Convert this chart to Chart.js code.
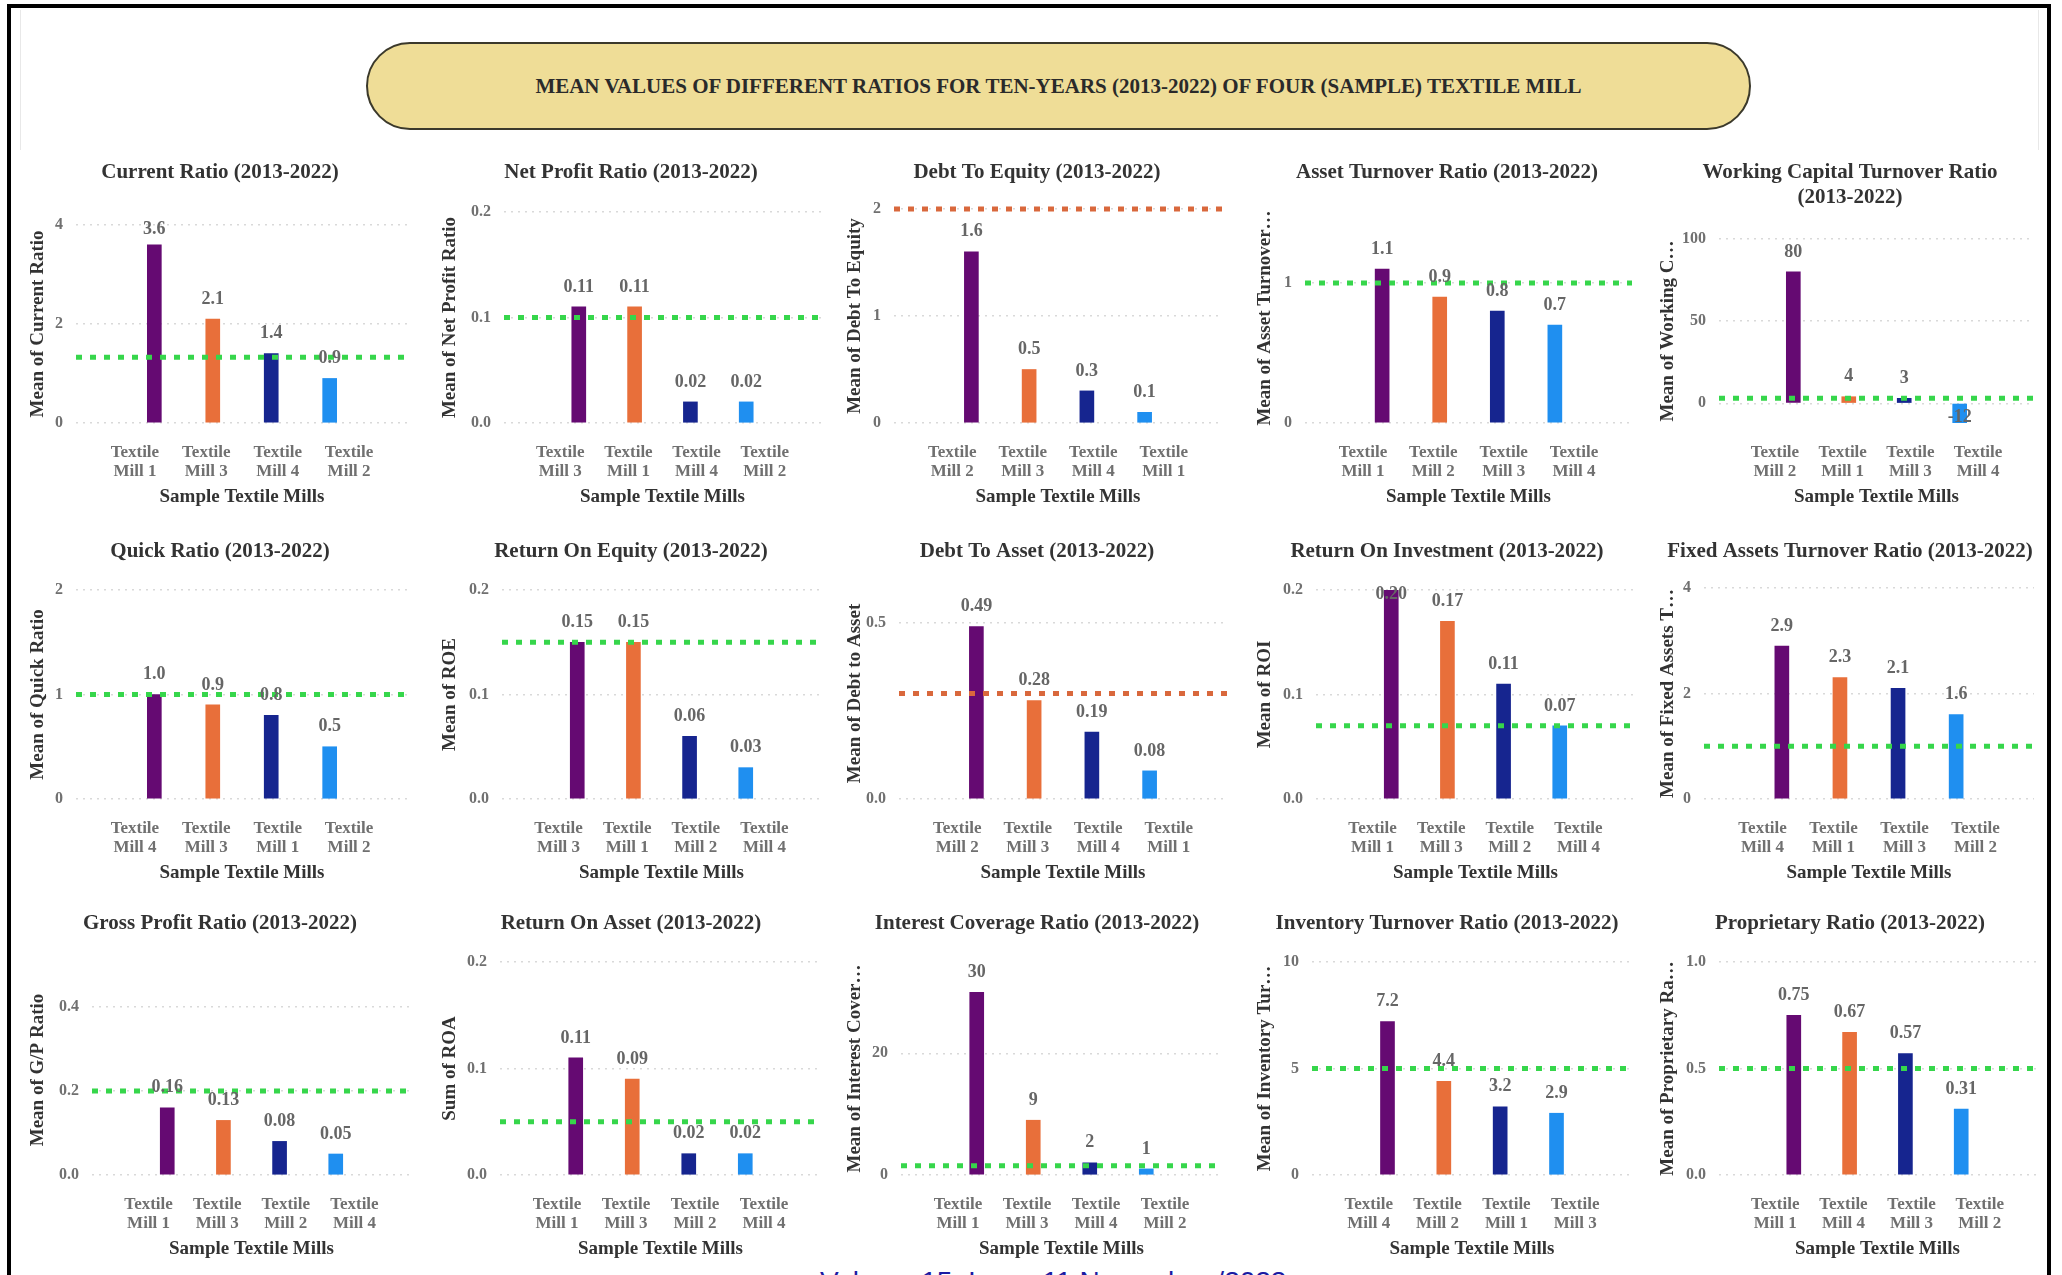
<!DOCTYPE html>
<html>
<head>
<meta charset="utf-8">
<script src="https://cdn.jsdelivr.net/npm/chart.js@4.4.1/dist/chart.umd.min.js"></script>
<style>
  html, body { margin: 0; padding: 0; background: #ffffff; }
  body { width: 2062px; height: 1275px; position: relative; overflow: hidden; }
  #frame { position: absolute; left: 7px; top: 4px; width: 2036px; height: 1320px;
           border: 4px solid #000; border-bottom: none; }
  .faint { position: absolute; width: 1px; background: #e8e8e8; }
  #banner { position: absolute; left: 366px; top: 42px; width: 1385px; height: 88px; box-sizing: border-box;
            border: 2px solid #3b392b; border-radius: 44px; background: #efdd97;
            display: flex; align-items: center; justify-content: center;
            font: bold 21px "Liberation Serif", "Times New Roman", serif; color: #2a2a2a; }
  #footer { position: absolute; left: 820px; top: 1268px; white-space: nowrap;
            font: 28px/28px "Liberation Sans", Arial, sans-serif; color: #1b1ba3; }
  canvas { position: absolute; }
</style>
</head>
<body>
<div id="frame"></div>
<div class="faint" style="left:20px; top:10px; height:140px;"></div>
<div class="faint" style="left:2038px; top:10px; height:140px;"></div>
<div id="banner">MEAN VALUES OF DIFFERENT RATIOS FOR TEN-YEARS (2013-2022) OF FOUR (SAMPLE) TEXTILE MILL</div>
<div id="footer">Volume 15, Issue 11 November /2023</div>

<script>
// ---------- Data: one entry per panel, read left-to-right, top-to-bottom ----------
const panelTitles = [
  'Current Ratio (2013-2022)', 'Net Profit Ratio (2013-2022)', 'Debt To Equity (2013-2022)',
  'Asset Turnover Ratio (2013-2022)', ['Working Capital Turnover Ratio', '(2013-2022)'],
  'Quick Ratio (2013-2022)', 'Return On Equity (2013-2022)', 'Debt To Asset (2013-2022)',
  'Return On Investment (2013-2022)', 'Fixed Assets Turnover Ratio (2013-2022)',
  'Gross Profit Ratio (2013-2022)', 'Return On Asset (2013-2022)', 'Interest Coverage Ratio (2013-2022)',
  'Inventory Turnover Ratio (2013-2022)', 'Proprietary Ratio (2013-2022)'
];

const yAxisTitles = [
  'Mean of Current Ratio', 'Mean of Net Profit Ratio', 'Mean of Debt To Equity',
  'Mean of Asset Turnover…', 'Mean of Working C…',
  'Mean of Quick Ratio', 'Mean of ROE', 'Mean of Debt to Asset', 'Mean of ROI', 'Mean of Fixed Assets T…',
  'Mean of G/P Ratio', 'Sum of ROA', 'Mean of Interest Cover…', 'Mean of Inventory Tur…', 'Mean of Proprietary Ra…'
];

const xAxisTitle = 'Sample Textile Mills';

// Mills in the order each panel ranks them (highest first)
const millOrder = [
  ['Textile Mill 1', 'Textile Mill 3', 'Textile Mill 4', 'Textile Mill 2'],
  ['Textile Mill 3', 'Textile Mill 1', 'Textile Mill 4', 'Textile Mill 2'],
  ['Textile Mill 2', 'Textile Mill 3', 'Textile Mill 4', 'Textile Mill 1'],
  ['Textile Mill 1', 'Textile Mill 2', 'Textile Mill 3', 'Textile Mill 4'],
  ['Textile Mill 2', 'Textile Mill 1', 'Textile Mill 3', 'Textile Mill 4'],
  ['Textile Mill 4', 'Textile Mill 3', 'Textile Mill 1', 'Textile Mill 2'],
  ['Textile Mill 3', 'Textile Mill 1', 'Textile Mill 2', 'Textile Mill 4'],
  ['Textile Mill 2', 'Textile Mill 3', 'Textile Mill 4', 'Textile Mill 1'],
  ['Textile Mill 1', 'Textile Mill 3', 'Textile Mill 2', 'Textile Mill 4'],
  ['Textile Mill 4', 'Textile Mill 1', 'Textile Mill 3', 'Textile Mill 2'],
  ['Textile Mill 1', 'Textile Mill 3', 'Textile Mill 2', 'Textile Mill 4'],
  ['Textile Mill 1', 'Textile Mill 3', 'Textile Mill 2', 'Textile Mill 4'],
  ['Textile Mill 1', 'Textile Mill 3', 'Textile Mill 4', 'Textile Mill 2'],
  ['Textile Mill 4', 'Textile Mill 2', 'Textile Mill 1', 'Textile Mill 3'],
  ['Textile Mill 1', 'Textile Mill 4', 'Textile Mill 3', 'Textile Mill 2']
];

// Ten-year mean of each ratio, in the same order as millOrder
const meanValues = [
  [3.6, 2.1, 1.4, 0.9],
  [0.11, 0.11, 0.02, 0.02],
  [1.6, 0.5, 0.3, 0.1],
  [1.1, 0.9, 0.8, 0.7],
  [80, 4, 3, -12],
  [1.0, 0.9, 0.8, 0.5],
  [0.15, 0.15, 0.06, 0.03],
  [0.49, 0.28, 0.19, 0.08],
  [0.20, 0.17, 0.11, 0.07],
  [2.9, 2.3, 2.1, 1.6],
  [0.16, 0.13, 0.08, 0.05],
  [0.11, 0.09, 0.02, 0.02],
  [30, 9, 2, 1],
  [7.2, 4.4, 3.2, 2.9],
  [0.75, 0.67, 0.57, 0.31]
];

// Decimals used in the value label over each bar
const valueDecimals = [1, 2, 1, 1, 0, 1, 2, 2, 2, 1, 2, 2, 0, 1, 2];

// Benchmark (standard) line drawn across each panel
const benchmarkValues = [1.33, 0.1, 2, 1, 3, 1, 0.15, 0.3, 0.07, 1, 0.2, 0.05, 1.5, 5, 0.5];
const benchmarkKinds = ['norm', 'norm', 'ceiling', 'norm', 'norm',
                        'norm', 'norm', 'ceiling', 'norm', 'norm',
                        'norm', 'norm', 'norm', 'norm', 'norm'];

// Value axis range and tick labels
const yRanges = [
  [0, 4], [0, 0.2], [0, 2], [0, 1.5], [-12, 100],
  [0, 2], [0, 0.2], [0, 0.6], [0, 0.2], [0, 4],
  [0, 0.5], [0, 0.2], [0, 35], [0, 10], [0, 1]
];
const yTickValues = [
  [0, 2, 4], [0, 0.1, 0.2], [0, 1, 2], [0, 1], [0, 50, 100],
  [0, 1, 2], [0, 0.1, 0.2], [0, 0.5], [0, 0.1, 0.2], [0, 2, 4],
  [0, 0.2, 0.4], [0, 0.1, 0.2], [0, 20], [0, 5, 10], [0, 0.5, 1]
];
const yTickLabels = [
  ['0', '2', '4'], ['0.0', '0.1', '0.2'], ['0', '1', '2'], ['0', '1'], ['0', '50', '100'],
  ['0', '1', '2'], ['0.0', '0.1', '0.2'], ['0.0', '0.5'], ['0.0', '0.1', '0.2'], ['0', '2', '4'],
  ['0.0', '0.2', '0.4'], ['0.0', '0.1', '0.2'], ['0', '20'], ['0', '5', '10'], ['0.0', '0.5', '1.0']
];

// ---------- Layout (page pixels) ----------
const columns = [
  { canvasLeft: 20,   titleX: 220,  yTitleX: 38 },
  { canvasLeft: 430,  titleX: 631,  yTitleX: 450 },
  { canvasLeft: 835,  titleX: 1037, yTitleX: 855 },
  { canvasLeft: 1245, titleX: 1447, yTitleX: 1265 },
  { canvasLeft: 1648, titleX: 1850, yTitleX: 1668 }
];
const rows = [
  { titleY: 173, plotBottom: 423 },
  { titleY: 552, plotBottom: 799 },
  { titleY: 924, plotBottom: 1175 }
];
const plotTops   = [225, 212, 209, 213, 239,  590, 590, 588, 590, 588,  965, 962, 962, 962, 962];
const plotLefts  = [76, 504, 894, 1305, 1719,  76, 502, 899, 1316, 1704,  92, 500, 901, 1312, 1719];
const plotRights = [408, 821, 1222, 1632, 2034,  408, 821, 1227, 1635, 2034,  411, 821, 1222, 1632, 2036];

// ---------- Styling ----------
const barColors = ['#650a72', '#e86f3a', '#16258f', '#1f8ff0'];
const lineColors = { norm: '#36d64b', ceiling: '#d9683c' };
const SERIF = '"Liberation Serif", "Times New Roman", serif';
Chart.defaults.font.family = SERIF;

const BAR_RANGE = [-1.34, 4.34];     // bar slots across the plot
const LABEL_RANGE = [-0.825, 3.825]; // category label slots across the plot
const TITLE_LH = 25.2;               // 21px * 1.2
const X_AXIS_H = 85;

// Value labels printed above (or at the end of, for negatives) each bar
const barValueLabels = {
  id: 'barValueLabels',
  afterDatasetsDraw(chart, args, opts) {
    const meta = chart.getDatasetMeta(0);
    const ds = chart.data.datasets[0];
    const ctx = chart.ctx;
    const area = chart.chartArea;
    ctx.save();
    ctx.font = 'bold 18px ' + SERIF;
    ctx.fillStyle = '#666666';
    ctx.textAlign = 'center';
    ctx.textBaseline = 'middle';
    meta.data.forEach((bar, i) => {
      const v = ds.data[i].y;
      const text = v.toFixed(opts.decimals);
      const y = v >= 0 ? Math.max(bar.y - 20, area.top + 4) : bar.y - 6;
      ctx.fillText(text, bar.x, y);
    });
    ctx.restore();
  }
};

for (let p = 0; p < 15; p++) {
  const col = columns[p % 5];
  const row = rows[Math.floor(p / 5)];
  const canvasLeft = col.canvasLeft;
  const canvasW = 2 * (col.titleX - canvasLeft);
  const canvasTop = Math.round(row.titleY - TITLE_LH / 2);
  const canvasH = row.plotBottom + X_AXIS_H - canvasTop;
  const titleLines = Array.isArray(panelTitles[p]) ? panelTitles[p].length : 1;
  const titleGap = plotTops[p] - canvasTop - TITLE_LH * titleLines;
  const yAxisW = plotLefts[p] - canvasLeft;
  const rightW = canvasLeft + canvasW - plotRights[p];
  const yTitlePad = col.yTitleX - canvasLeft - 11.4;

  const cv = document.createElement('canvas');
  cv.width = canvasW;
  cv.height = canvasH;
  cv.style.left = canvasLeft + 'px';
  cv.style.top = canvasTop + 'px';
  cv.style.width = canvasW + 'px';
  cv.style.height = canvasH + 'px';
  document.body.appendChild(cv);

  const mills = millOrder[p];
  const values = meanValues[p];
  const ticks = yTickValues[p];
  const tickText = yTickLabels[p];
  const bench = benchmarkValues[p];

  new Chart(cv, {
    type: 'bar',
    data: {
      datasets: [
        {
          type: 'bar',
          data: values.map((v, i) => ({ x: i, y: v })),
          backgroundColor: barColors,
          borderWidth: 0,
          barThickness: 14,
          xAxisID: 'x', yAxisID: 'y',
          order: 2
        },
        {
          type: 'line',
          data: [{ x: BAR_RANGE[0], y: bench }, { x: BAR_RANGE[1], y: bench }],
          borderColor: lineColors[benchmarkKinds[p]],
          borderWidth: 5,
          borderDash: [6, 8],
          borderCapStyle: 'butt',
          pointRadius: 0,
          fill: false,
          clip: false,
          xAxisID: 'x', yAxisID: 'y',
          order: 1
        }
      ]
    },
    options: {
      responsive: false,
      animation: false,
      events: [],
      layout: { padding: 0 },
      plugins: {
        legend: { display: false },
        tooltip: { enabled: false },
        title: {
          display: true,
          text: panelTitles[p],
          color: '#333333',
          font: { size: 21, weight: 'bold', lineHeight: 1.2 },
          padding: { top: 0, bottom: titleGap }
        },
        barValueLabels: { decimals: valueDecimals[p] }
      },
      scales: {
        x: {
          type: 'linear', display: false, offset: false,
          min: BAR_RANGE[0], max: BAR_RANGE[1],
          grid: { offset: false }
        },
        xl: {
          type: 'linear', position: 'bottom', offset: false,
          min: LABEL_RANGE[0], max: LABEL_RANGE[1],
          afterBuildTicks: s => { s.ticks = mills.map((m, i) => ({ value: i })); },
          afterFit: s => { s.height = X_AXIS_H; },
          grid: { display: false, drawTicks: false, offset: false },
          border: { display: false },
          ticks: {
            autoSkip: false, maxRotation: 0, minRotation: 0, padding: 20,
            color: '#707070', font: { size: 17, weight: 'bold', lineHeight: 1.13 },
            callback: (v, i) => { const m = mills[i]; const k = m.indexOf('Mill'); return [m.slice(0, k).trim(), m.slice(k)]; }
          },
          title: {
            display: true, text: xAxisTitle, color: '#333333',
            font: { size: 19, weight: 'bold', lineHeight: 1.2 },
            padding: { top: 0, bottom: 0 }
          }
        },
        y: {
          type: 'linear', position: 'left',
          min: yRanges[p][0], max: yRanges[p][1],
          afterBuildTicks: s => { s.ticks = ticks.map(v => ({ value: v })); },
          afterFit: s => { s.width = yAxisW; },
          grid: { color: '#d9d9d9', lineWidth: 1.5, drawTicks: false },
          border: { display: false, dash: [2, 5] },
          ticks: {
            padding: 13, color: '#707070', font: { size: 16, weight: 'bold' },
            callback: (v, i) => tickText[i]
          },
          title: {
            display: true, text: yAxisTitles[p], color: '#333333',
            font: { size: 19, weight: 'bold', lineHeight: 1.2 },
            padding: { top: yTitlePad, bottom: 0 }
          }
        },
        yr: {
          type: 'linear', position: 'right', display: true,
          afterFit: s => { s.width = rightW; },
          grid: { display: false, drawTicks: false },
          border: { display: false },
          ticks: { display: false },
          title: { display: false }
        }
      }
    },
    plugins: [barValueLabels]
  });
}
</script>
</body>
</html>
